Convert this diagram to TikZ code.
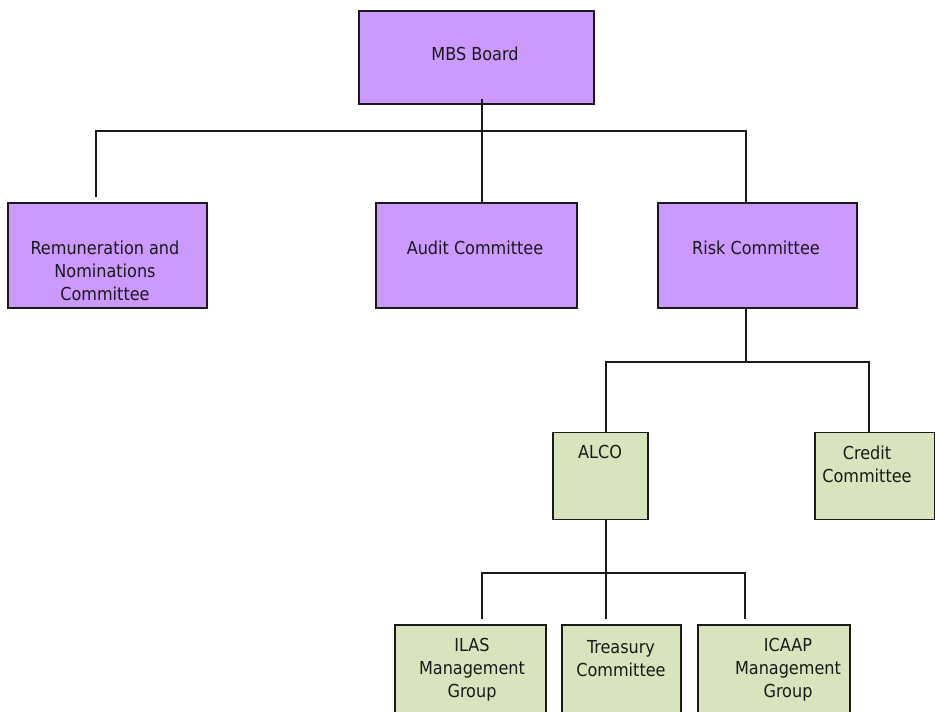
\documentclass[tikz,border=0pt]{standalone}
\usepackage{fontspec}
\setmainfont{DejaVu Sans Condensed}
\usetikzlibrary{calc}
\definecolor{purplefill}{HTML}{CC99FF}
\definecolor{greenfill}{HTML}{D8E4BC}
\definecolor{edge}{HTML}{1A1A1A}
\begin{document}
\begin{tikzpicture}[x=0.75pt,y=-0.75pt,
  box/.style={draw=edge,line width=1.4pt,inner sep=0pt,outer sep=0pt},
  pbox/.style={box,fill=purplefill},
  gbox/.style={box,fill=greenfill},
  txt/.style={font=\fontsize{13.4}{17.2}\selectfont,align=center,inner sep=0pt,text=black!90},
  conn/.style={draw=edge,line width=1.1pt}]
\useasboundingbox (0,0) rectangle (935,711);
% boxes
\node[pbox,minimum width=235*0.75pt,minimum height=93*0.75pt] (mbs) at (476.5,57.5) {};
\node[pbox,minimum width=199*0.75pt,minimum height=105*0.75pt] (rem) at (107.5,255.5) {};
\node[pbox,minimum width=201*0.75pt,minimum height=105*0.75pt] (audit) at (476.5,255.5) {};
\node[pbox,minimum width=199*0.75pt,minimum height=105*0.75pt] (risk) at (757.5,255.5) {};
\node[gbox,minimum width=95*0.75pt,minimum height=87*0.75pt] (alco) at (600.5,476) {};
\node[gbox,minimum width=120*0.75pt,minimum height=87*0.75pt] (credit) at (875,476) {};
\node[gbox,minimum width=151*0.75pt,minimum height=110*0.75pt] (ilas) at (470.5,680) {};
\node[gbox,minimum width=119*0.75pt,minimum height=110*0.75pt] (treas) at (621.5,680) {};
\node[gbox,minimum width=152*0.75pt,minimum height=110*0.75pt] (icaap) at (774,680) {};
% texts
\node[txt] (tmbs) at (475,54) {MBS Board};
\node[txt] (trem) at (105,271) {Remuneration and\\Nominations\\Committee};
\node[txt] (taudit) at (475,248) {Audit Committee};
\node[txt] (trisk) at (756,248) {Risk Committee};
\node[txt] (talco) at (600,452) {ALCO};
\node[txt] (tcredit) at (867,464) {Credit\\Committee};
\node[txt] (tilas) at (472,670) {ILAS\\Management\\Group};
\node[txt] (ttreas) at (621,659) {Treasury\\Committee};
\node[txt] (ticaap) at (788,670) {ICAAP\\Management\\Group};
% connectors
\coordinate (b1) at (482,131);
\draw[conn] ($(mbs.south)+(5.5,-5)$) -- (audit.north -| b1);
\draw[conn] (rem.north -| 96,0) ++(0,-6) |- (b1) -| (risk.north -| 746,0);
\coordinate (b2) at (606,362);
\draw[conn] (risk.south -| 746,0) -- (746,362);
\draw[conn] (alco.north -| b2) -- (b2) -- (869,362) -- (credit.north -| 869,0);
\coordinate (b3) at (606,573);
\draw[conn] (alco.south -| b3) -- (b3);
\draw[conn] ($(ilas.north -| 482,0)+(0,-6)$) |- (745,573) -- ($(icaap.north -| 745,0)+(0,-6)$);
\draw[conn] (b3) -- ($(treas.north -| b3)+(0,-6)$);
\end{tikzpicture}
\end{document}
